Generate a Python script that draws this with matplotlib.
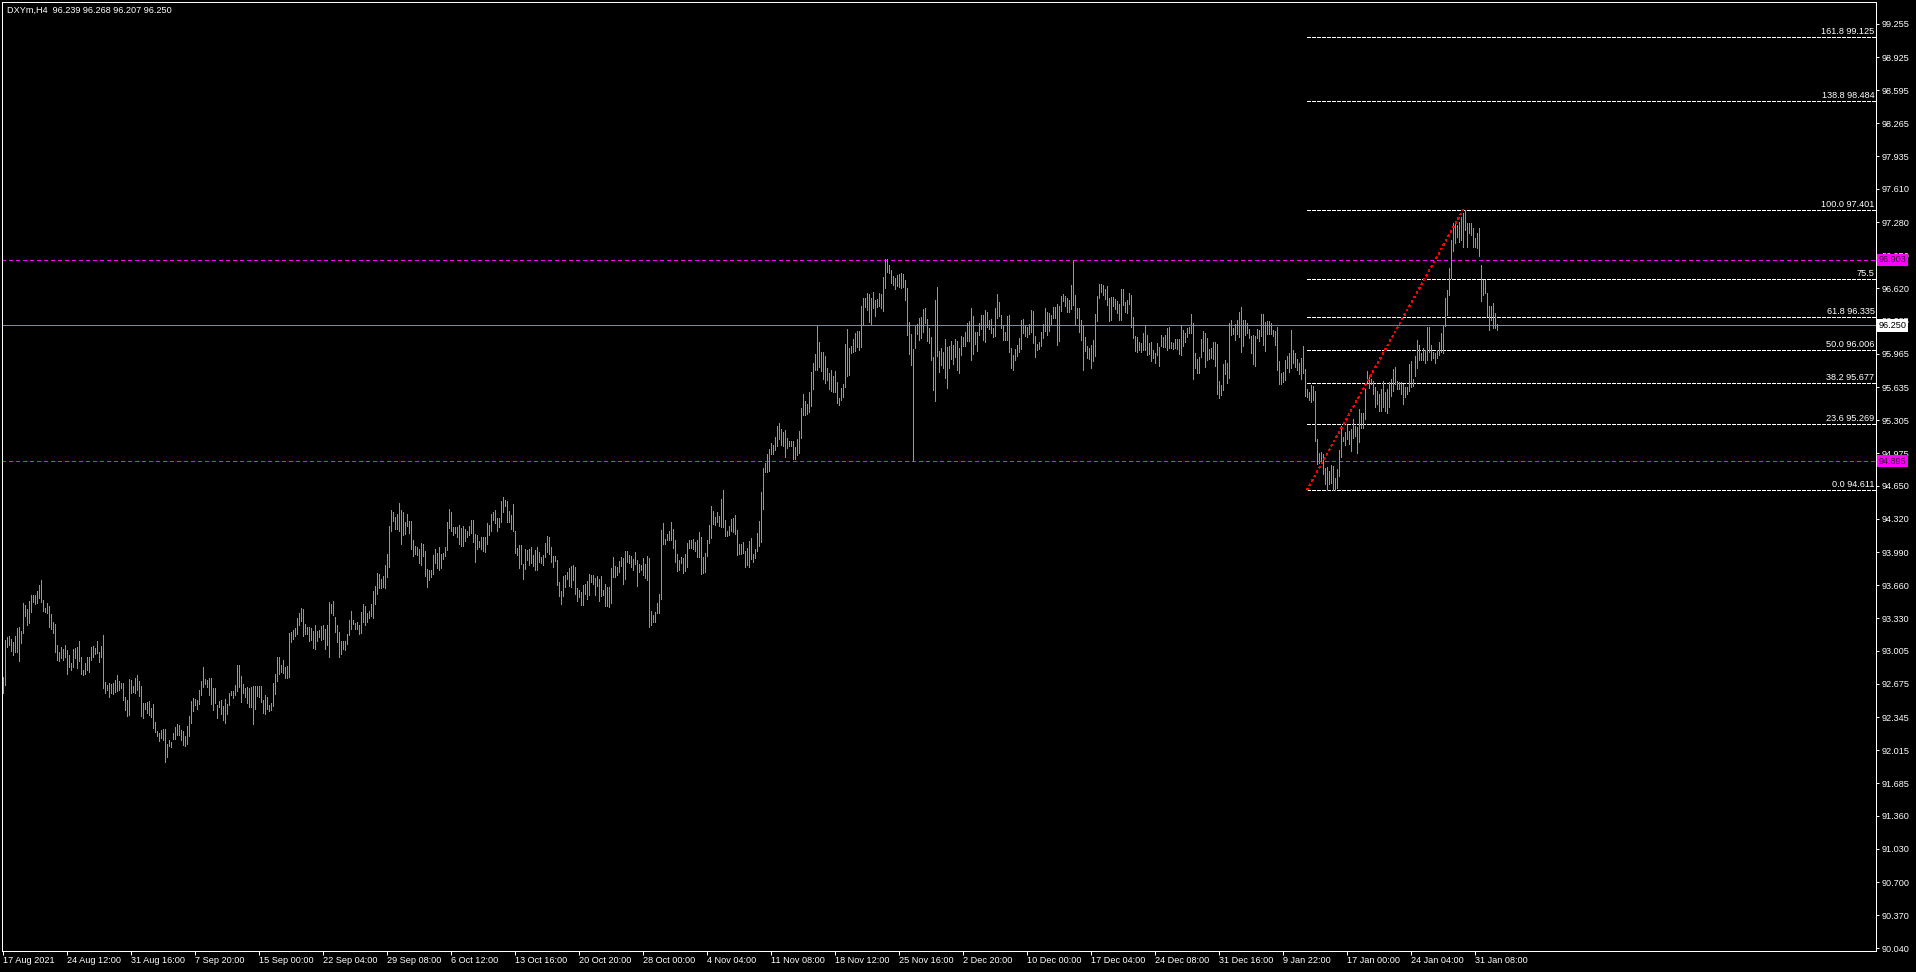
import numpy as np
import matplotlib
matplotlib.use("Agg")
import matplotlib.pyplot as plt
import matplotlib.transforms as mtransforms
from matplotlib import font_manager

# ---- data (DXYm, H4) ----
symbol_text = "DXYm,H4  96.239 96.268 96.207 96.250"

high = [
    # 17 Aug - 29 Sep
    92.74, 93.11, 93.14, 93.15, 93.12, 93.09, 93.15, 93.23, 93.24, 93.20,
    93.48, 93.46, 93.42, 93.50, 93.56, 93.56, 93.56, 93.60, 93.66, 93.71,
    93.51, 93.43, 93.48, 93.45, 93.37, 93.29, 93.27, 93.06, 92.99, 93.04,
    93.02, 93.06, 93.01, 92.96, 92.88, 93.02, 93.03, 93.04, 93.10, 92.94,
    92.81, 92.88, 92.94, 92.94, 93.04, 93.05, 93.03, 93.10, 92.99, 93.05,
    93.16, 92.69, 92.66, 92.68, 92.67, 92.68, 92.71, 92.76, 92.70, 92.68,
    92.68, 92.55, 92.52, 92.72, 92.71, 92.65, 92.73, 92.76, 92.70, 92.65,
    92.49, 92.49, 92.50, 92.51, 92.44, 92.48, 92.30, 92.21, 92.19, 92.22,
    92.23, 92.23, 92.08, 92.12, 92.10, 92.19, 92.25, 92.28, 92.27, 92.22,
    92.21, 92.16, 92.26, 92.36, 92.51, 92.54, 92.53, 92.52, 92.62, 92.70,
    92.84, 92.72, 92.71, 92.73, 92.73, 92.63, 92.63, 92.47, 92.51, 92.52,
    92.46, 92.53, 92.48, 92.59, 92.61, 92.61, 92.66, 92.86, 92.86, 92.75,
    92.67, 92.63, 92.64, 92.63, 92.64, 92.65, 92.65, 92.65, 92.65, 92.65,
    92.52, 92.57, 92.55, 92.47, 92.49, 92.68, 92.77, 92.94, 92.94, 92.86,
    92.91, 92.84, 92.85, 93.18, 93.19, 93.21, 93.23, 93.33, 93.38, 93.43,
    93.42, 93.27, 93.24, 93.24, 93.23, 93.20, 93.26, 93.20, 93.21, 93.25,
    93.26, 93.22, 93.26, 93.49, 93.47, 93.50, 93.34, 93.26, 93.19, 93.10,
    93.10, 93.10, 93.17, 93.31, 93.40, 93.31, 93.28, 93.29, 93.26, 93.39,
    93.47, 93.45, 93.38, 93.40, 93.47, 93.60, 93.65, 93.78, 93.77, 93.72,
    93.75, 93.86, 93.97, 94.25,
    # 29 Sep - 11 Nov
    94.41, 94.39, 94.34, 94.37, 94.48, 94.41, 94.39, 94.29, 94.37, 94.30,
    94.30, 94.11, 94.05, 94.04, 94.02, 94.08, 94.07, 94.00, 93.82, 93.81,
    93.81, 93.96, 94.02, 93.98, 94.04, 93.97, 93.98, 94.04, 94.29, 94.42,
    94.39, 94.24, 94.24, 94.24, 94.26, 94.23, 94.25, 94.22, 94.20, 94.25,
    94.31, 94.31, 94.17, 94.16, 94.10, 94.14, 94.14, 94.14, 94.28, 94.26,
    94.37, 94.39, 94.41, 94.33, 94.33, 94.50, 94.54, 94.51, 94.50, 94.40,
    94.36, 94.47, 94.20, 94.03, 94.06, 94.06, 93.87, 94.02, 94.01, 94.02,
    94.04, 93.96, 94.01, 94.04, 93.99, 93.94, 93.96, 94.08, 94.15, 94.14,
    94.04, 93.95, 93.95, 93.91, 93.69, 93.60, 93.75, 93.76, 93.79, 93.83,
    93.85, 93.86, 93.84, 93.63, 93.61, 93.59, 93.66, 93.67, 93.70, 93.77,
    93.76, 93.76, 93.73, 93.75, 93.72, 93.75, 93.61, 93.67, 93.64, 93.64,
    93.83, 93.94, 93.85, 93.84, 93.90, 93.94, 93.93, 94.00, 94.00, 93.96,
    93.95, 93.92, 93.99, 93.91, 93.87, 93.86, 93.93, 93.87, 93.95, 93.93,
    93.40, 93.36, 93.39, 93.48, 93.57, 94.21, 94.28, 94.12, 94.17, 94.20,
    94.29, 94.22, 94.11, 93.97, 93.91, 93.94, 93.93, 93.97, 94.08, 94.11,
    94.11, 94.12, 94.09, 94.11, 94.19, 94.14, 93.94, 93.98, 94.11, 94.26,
    94.45, 94.40, 94.34, 94.39, 94.35, 94.52, 94.61, 94.31, 94.20, 94.25,
    94.32, 94.33, 94.36, 94.21, 94.07, 94.07, 94.09, 94.00, 94.03, 94.10,
    94.13, 93.97, 94.02, 94.18, 94.30, 94.59, 94.83, 94.88, 94.97, 95.02,
    95.08, 95.06, 95.14, 95.25, 95.28,
    # 11 Nov - 10 Jan
    95.22, 95.19, 95.21, 95.13, 95.10, 95.10, 95.10, 95.04, 95.12, 95.20,
    95.43, 95.57, 95.50, 95.47, 95.59, 95.79, 95.88, 95.96, 96.24, 96.08,
    95.98, 95.98, 95.94, 95.83, 95.78, 95.81, 95.75, 95.80, 95.69, 95.53,
    95.63, 95.67, 96.06, 96.21, 96.02, 96.04, 96.11, 96.17, 96.19, 96.19,
    96.44, 96.52, 96.52, 96.57, 96.56, 96.52, 96.58, 96.50, 96.51, 96.57,
    96.56, 96.73, 96.91, 96.91, 96.85, 96.80, 96.74, 96.72, 96.75, 96.76,
    96.77, 96.76, 96.70, 96.62, 96.28, 96.16, 96.01, 96.24, 96.26, 96.32,
    96.33, 96.41, 96.42, 96.31, 96.22, 96.13, 95.93, 96.50, 96.63, 95.99,
    96.02, 95.98, 96.11, 96.03, 96.04, 96.09, 96.05, 96.11, 96.09, 96.02,
    96.14, 96.13, 96.18, 96.27, 96.29, 96.42, 96.34, 96.18, 96.18, 96.27,
    96.35, 96.35, 96.40, 96.38, 96.30, 96.31, 96.22, 96.42, 96.56, 96.48,
    96.35, 96.25, 96.18, 96.34, 96.35, 96.02, 95.95, 96.01, 96.05, 96.12,
    96.30, 96.31, 96.25, 96.23, 96.26, 96.40, 96.39, 96.14, 96.06, 96.08,
    96.18, 96.26, 96.42, 96.38, 96.37, 96.35, 96.43, 96.43, 96.46, 96.44,
    96.54, 96.56, 96.54, 96.52, 96.50, 96.65, 96.89, 96.55, 96.42, 96.42,
    96.30, 96.25, 96.13, 96.04, 96.02, 96.05, 96.10, 96.36, 96.54, 96.66,
    96.66, 96.65, 96.61, 96.64, 96.52, 96.53, 96.53, 96.51, 96.49, 96.46,
    96.61, 96.61, 96.48, 96.50, 96.57, 96.55, 96.33, 96.14, 96.13, 96.08,
    96.07, 96.17, 96.25, 96.15, 96.07, 96.08, 96.00, 95.97, 96.07, 96.03,
    96.15, 96.13, 96.15, 96.22, 96.23, 96.08, 96.07, 96.11, 96.11, 96.11,
    # 10 Jan - 31 Jan
    96.25, 96.20, 96.17, 96.22, 96.23, 96.36, 96.27, 95.97, 95.91, 95.93,
    96.11, 96.19, 96.17, 96.12, 96.01, 96.02, 96.08, 96.08, 96.06, 95.70,
    95.66, 95.87, 95.90, 95.88, 96.27, 96.30, 96.22, 96.26, 96.30, 96.38,
    96.43, 96.30, 96.30, 96.27, 96.21, 96.14, 96.15, 96.14, 96.21, 96.20,
    96.36, 96.36, 96.28, 96.29, 96.29, 96.27, 96.20, 96.19, 96.23, 95.89,
    95.78, 95.79, 95.90, 95.94, 95.97, 96.20, 96.00, 95.97, 95.91, 95.88,
    95.92, 96.04, 95.82, 95.62, 95.59, 95.66, 95.65, 95.60, 95.12, 94.98,
    94.99, 94.97, 94.83, 94.84, 94.80, 94.86, 94.85, 94.73, 94.82, 95.01,
    95.25, 95.14, 95.19, 95.26, 95.20, 95.22, 95.32, 95.25, 95.24, 95.42,
    95.38, 95.38, 95.62, 95.80,
    95.75, 95.72, 95.70, 95.64, 95.60, 95.57, 95.62, 95.70, 95.59, 95.62,
    95.69, 95.72, 95.82, 95.84, 95.70, 95.69, 95.69, 95.67, 95.64, 95.64,
    95.87, 95.89, 95.72, 95.94, 96.10, 96.05, 95.97, 96.02, 96.00, 96.23,
    96.23, 96.05, 95.98, 95.97, 96.00, 96.08, 96.17, 96.25, 96.52, 96.60,
    96.82, 97.10, 97.27, 97.27, 97.25, 97.28, 97.33, 97.37, 97.401, 97.27,
    97.27, 97.27, 97.22, 97.12, 97.17, 97.22, 96.85, 96.70, 96.70, 96.57,
    96.44, 96.44, 96.47, 96.37, 96.268,
]

low = [
    # 17 Aug - 29 Sep
    92.59, 92.66, 93.04, 93.06, 93.00, 92.96, 92.99, 92.99, 92.90, 93.08,
    93.18, 93.35, 93.26, 93.28, 93.39, 93.49, 93.47, 93.48, 93.53, 93.49,
    93.40, 93.39, 93.38, 93.24, 93.22, 93.18, 92.99, 92.91, 92.90, 92.93,
    92.91, 92.94, 92.77, 92.84, 92.81, 92.84, 92.93, 92.83, 92.90, 92.77,
    92.76, 92.77, 92.81, 92.79, 92.91, 92.94, 92.97, 92.98, 92.89, 92.94,
    92.63, 92.59, 92.62, 92.55, 92.59, 92.58, 92.60, 92.61, 92.62, 92.63,
    92.52, 92.42, 92.36, 92.37, 92.59, 92.60, 92.59, 92.62, 92.56, 92.36,
    92.34, 92.43, 92.39, 92.37, 92.35, 92.24, 92.20, 92.16, 92.11, 92.14,
    92.12, 91.90, 91.95, 92.06, 92.05, 92.13, 92.13, 92.17, 92.17, 92.12,
    92.07, 92.06, 92.08, 92.16, 92.29, 92.41, 92.47, 92.43, 92.48, 92.57,
    92.64, 92.67, 92.64, 92.57, 92.48, 92.42, 92.49, 92.34, 92.45, 92.38,
    92.32, 92.29, 92.38, 92.47, 92.57, 92.54, 92.57, 92.61, 92.64, 92.50,
    92.59, 92.55, 92.49, 92.45, 92.45, 92.28, 92.43, 92.56, 92.55, 92.50,
    92.39, 92.38, 92.43, 92.41, 92.42, 92.46, 92.58, 92.70, 92.77, 92.79,
    92.78, 92.73, 92.73, 92.74, 93.09, 93.12, 93.15, 93.17, 93.26, 93.30,
    93.15, 93.17, 93.17, 93.10, 93.11, 93.03, 93.02, 93.10, 93.14, 93.11,
    93.12, 93.02, 93.06, 92.94, 93.38, 93.36, 93.19, 93.09, 92.94, 92.97,
    93.02, 93.01, 93.07, 93.16, 93.22, 93.27, 93.22, 93.22, 93.17, 93.18,
    93.29, 93.26, 93.29, 93.33, 93.35, 93.33, 93.47, 93.57, 93.63, 93.63,
    93.64, 93.63, 93.74, 93.84,
    # 29 Sep - 11 Nov
    94.20, 94.30, 94.22, 94.22, 94.20, 94.07, 94.16, 94.17, 94.25, 94.18,
    94.02, 93.95, 93.97, 93.96, 93.88, 93.86, 93.95, 93.75, 93.64, 93.71,
    93.74, 93.77, 93.88, 93.83, 93.81, 93.83, 93.92, 93.95, 94.01, 94.23,
    94.20, 94.16, 94.18, 94.14, 94.07, 94.05, 94.05, 94.10, 94.14, 94.16,
    94.18, 94.09, 93.89, 94.02, 94.04, 94.02, 94.00, 93.99, 94.07, 94.16,
    94.20, 94.31, 94.28, 94.20, 94.24, 94.29, 94.39, 94.45, 94.29, 94.29,
    94.22, 94.20, 93.98, 93.96, 93.83, 93.87, 93.72, 93.82, 93.91, 93.86,
    93.88, 93.85, 93.81, 93.81, 93.89, 93.88, 93.86, 93.94, 93.99, 93.97,
    93.89, 93.84, 93.90, 93.66, 93.55, 93.47, 93.55, 93.64, 93.72, 93.65,
    93.64, 93.71, 93.57, 93.50, 93.54, 93.46, 93.46, 93.57, 93.52, 93.56,
    93.69, 93.67, 93.56, 93.65, 93.50, 93.55, 93.56, 93.45, 93.45, 93.44,
    93.48, 93.74, 93.74, 93.76, 93.79, 93.85, 93.67, 93.72, 93.89, 93.88,
    93.84, 93.81, 93.87, 93.65, 93.79, 93.81, 93.76, 93.73, 93.71, 93.24,
    93.26, 93.29, 93.29, 93.38, 93.38, 93.52, 94.07, 94.07, 94.11, 94.11,
    94.11, 94.03, 93.89, 93.80, 93.81, 93.88, 93.78, 93.80, 93.84, 94.03,
    94.03, 94.02, 94.00, 93.94, 93.94, 93.77, 93.78, 93.79, 93.95, 94.08,
    94.13, 94.27, 94.26, 94.29, 94.25, 94.24, 94.24, 94.15, 94.15, 94.16,
    94.20, 94.19, 94.17, 93.96, 93.97, 93.97, 93.98, 93.84, 93.86, 93.84,
    93.92, 93.89, 93.93, 94.00, 94.05, 94.09, 94.42, 94.79, 94.79, 94.80,
    94.97, 94.97, 95.01, 95.05, 95.12,
    # 11 Nov - 10 Jan
    95.06, 95.05, 94.94, 95.03, 95.05, 95.05, 94.92, 94.92, 94.96, 94.98,
    95.13, 95.36, 95.36, 95.37, 95.39, 95.45, 95.62, 95.81, 95.81, 95.84,
    95.80, 95.72, 95.68, 95.71, 95.62, 95.60, 95.59, 95.59, 95.48, 95.46,
    95.51, 95.54, 95.64, 95.75, 95.76, 95.97, 95.98, 95.99, 96.03, 96.00,
    96.03, 96.25, 96.43, 96.40, 96.28, 96.26, 96.42, 96.34, 96.43, 96.44,
    96.42, 96.39, 96.62, 96.78, 96.77, 96.67, 96.65, 96.61, 96.64, 96.63,
    96.62, 96.63, 96.50, 96.15, 95.96, 95.86, 94.895, 96.02, 96.16, 96.10,
    96.12, 96.18, 96.27, 96.09, 96.07, 95.90, 95.61, 95.50, 95.94, 95.79,
    95.86, 95.83, 95.73, 95.63, 95.83, 95.91, 95.87, 95.93, 95.81, 95.78,
    95.95, 96.04, 96.04, 96.09, 96.09, 95.90, 95.96, 96.06, 95.99, 96.15,
    96.21, 96.10, 96.08, 96.23, 96.21, 96.17, 96.13, 96.14, 96.32, 96.34,
    96.22, 96.10, 96.10, 96.10, 95.98, 95.83, 95.81, 95.90, 95.94, 95.98,
    96.01, 96.17, 96.14, 96.13, 96.16, 96.18, 96.07, 95.93, 96.00, 96.01,
    96.04, 96.12, 96.19, 96.15, 96.19, 96.26, 96.32, 96.32, 96.05, 96.09,
    96.39, 96.49, 96.44, 96.38, 96.38, 96.41, 96.45, 96.25, 96.32, 96.18,
    96.10, 95.81, 95.99, 95.92, 95.91, 95.83, 95.89, 95.94, 96.29, 96.52,
    96.58, 96.55, 96.51, 96.45, 96.29, 96.30, 96.44, 96.41, 96.37, 96.30,
    96.30, 96.45, 96.38, 96.37, 96.46, 96.23, 96.12, 95.99, 95.98, 96.00,
    95.98, 96.00, 96.00, 95.95, 95.96, 95.89, 95.92, 95.88, 95.95, 95.85,
    96.04, 96.03, 96.03, 96.00, 96.02, 96.02, 96.01, 96.02, 96.01, 95.96,
    # 10 Jan - 31 Jan
    95.95, 96.04, 96.08, 96.13, 96.17, 96.17, 95.72, 95.83, 95.78, 95.78,
    95.93, 95.99, 95.84, 95.90, 95.91, 95.92, 95.91, 95.85, 95.57, 95.53,
    95.56, 95.61, 95.77, 95.68, 95.73, 96.15, 96.16, 96.10, 96.16, 96.13,
    95.98, 96.04, 96.15, 96.17, 96.12, 95.97, 95.87, 95.85, 96.12, 96.09,
    96.14, 96.05, 95.99, 96.16, 96.16, 96.16, 96.14, 96.05, 95.81, 95.67,
    95.67, 95.69, 95.71, 95.83, 95.79, 95.83, 95.88, 95.84, 95.81, 95.77,
    95.72, 95.78, 95.55, 95.54, 95.51, 95.49, 95.51, 95.10, 94.87, 94.88,
    94.89, 94.77, 94.67, 94.61, 94.67, 94.68, 94.611, 94.611, 94.63, 94.75,
    94.94, 95.10, 95.06, 95.12, 95.07, 95.00, 95.13, 95.15, 94.98, 95.09,
    95.23, 95.23, 95.32, 95.69,
    95.63, 95.67, 95.57, 95.44, 95.47, 95.40, 95.40, 95.44, 95.40, 95.38,
    95.44, 95.55, 95.60, 95.67, 95.62, 95.62, 95.57, 95.47, 95.54, 95.57,
    95.60, 95.64, 95.65, 95.75, 95.83, 95.90, 95.90, 95.90, 95.88, 95.90,
    95.98, 95.90, 95.92, 95.88, 95.92, 95.95, 95.98, 95.97, 96.24, 96.35,
    96.55, 96.72, 96.99, 97.07, 97.13, 97.08, 97.10, 97.03, 97.20, 97.03,
    97.17, 97.15, 97.03, 97.03, 97.02, 96.94, 96.49, 96.55, 96.57, 96.34,
    96.20, 96.30, 96.22, 96.22, 96.207,
]

date_labels = [
    "17 Aug 2021", "24 Aug 12:00", "31 Aug 16:00", "7 Sep 20:00", "15 Sep 00:00",
    "22 Sep 04:00", "29 Sep 08:00", "6 Oct 12:00", "13 Oct 16:00", "20 Oct 20:00",
    "28 Oct 00:00", "4 Nov 04:00", "11 Nov 08:00", "18 Nov 12:00", "25 Nov 16:00",
    "2 Dec 20:00", "10 Dec 00:00", "17 Dec 04:00", "24 Dec 08:00", "31 Dec 16:00",
    "9 Jan 22:00", "17 Jan 00:00", "24 Jan 04:00", "31 Jan 08:00",
]
bars_per_label = 32

price_ticks = [99.255, 98.925, 98.595, 98.265, 97.935, 97.610, 97.280, 96.950,
               96.620, 96.295, 95.965, 95.635, 95.305, 94.975, 94.650, 94.320,
               93.990, 93.660, 93.330, 93.005, 92.675, 92.345, 92.015, 91.685,
               91.360, 91.030, 90.700, 90.370, 90.040]

fib_levels = [99.125, 98.484, 97.401, 96.717, 96.335, 96.006, 95.677, 95.269, 94.611]
fib_labels = ["161.8 99.125", "138.8 98.484", "100.0 97.401", "75.5",
              "61.8 96.335", "50.0 96.006", "38.2 95.677", "23.6 95.269", "0.0 94.611"]
fib_start_bar = 652      # time anchor of the fibo object (low side)
fib_end_bar = 730        # time anchor of the high
fib_low, fib_high = 94.611, 97.401

hline_levels = [96.903, 94.895]
bid = 96.250

# ---- style ----
GREEN = "#00ff00"
MAGENTA = "#ff00ff"
BIDGREY = "#778899"
PX = 0.72  # one pixel in points at dpi 100

plt.rcParams["lines.scale_dashes"] = False

names = {f.name for f in font_manager.fontManager.ttflist}
if "Liberation Sans Narrow" in names:
    FONT, FS = "Liberation Sans Narrow", 8.0
else:
    FONT, FS = "Liberation Sans", 6.6
plt.rcParams["font.family"] = [FONT, "DejaVu Sans"]

W, H = 1916, 972
fig = plt.figure(figsize=(W / 100, H / 100), dpi=100, facecolor="black")
ax = fig.add_axes([2 / W, 21 / H, 1874 / W, 949 / H])
ax.set_facecolor("black")

n = len(high)
x = np.arange(n)
ax.vlines(x, low, high, colors=GREEN, linewidth=PX, antialiased=False, zorder=3)

xmax = 936.5
ax.set_xlim(-0.5, xmax)
ax.set_ylim(90.013, 99.474)

for s in ax.spines.values():
    s.set_color("white")
    s.set_linewidth(PX)

# price scale on the right
ax.yaxis.tick_right()
ax.set_yticks(price_ticks)
ax.set_yticklabels(["%.3f" % v for v in price_ticks])
ax.tick_params(axis="y", colors="white", length=3 * PX, width=PX, pad=2.5 * PX,
               labelsize=FS)

# time scale
ax.set_xticks(np.arange(len(date_labels)) * bars_per_label)
ax.set_xticklabels(date_labels, ha="left")
ax.tick_params(axis="x", colors="white", length=4 * PX, width=PX, pad=1,
               labelsize=FS)

# horizontal lines
for lv in hline_levels:
    ax.axhline(lv, color=MAGENTA, linewidth=PX, dashes=(4 * PX, 3 * PX),
               antialiased=False, zorder=2)
ax.axhline(bid, color=BIDGREY, linewidth=PX, antialiased=False, zorder=2)

# fibonacci retracement
ax.hlines(fib_levels, fib_start_bar, xmax, colors="white", linewidth=PX,
          linestyles=[(0, (3 * PX, 2 * PX))], antialiased=False, zorder=2)
ax.plot([fib_start_bar, fib_end_bar], [fib_low, fib_high], color="#ff0000",
        linewidth=PX, dashes=(2 * PX, 3 * PX), antialiased=False, zorder=4)

trans = mtransforms.blended_transform_factory(ax.transAxes, ax.transData)
up = mtransforms.ScaledTranslation(0, 3 / 100, fig.dpi_scale_trans)
for lv, lab in zip(fib_levels, fib_labels):
    ax.text(0.9992, lv, lab, transform=trans + up, ha="right", va="baseline",
            color="white", fontsize=FS, zorder=5)

# price labels on the scale
for lv in hline_levels:
    ax.text(1.0012, lv, "%.3f" % lv, transform=trans, ha="left", va="center",
            color="#3c003c", fontsize=FS, clip_on=False, zorder=10,
            bbox=dict(boxstyle="square,pad=0.18", fc=MAGENTA, ec="none"))
ax.text(1.0012, bid, "%.3f" % bid, transform=trans, ha="left", va="center",
        color="black", fontsize=FS, clip_on=False, zorder=10,
        bbox=dict(boxstyle="square,pad=0.18", fc="white", ec="none"))

fig.text(7 / W, 1 - 10 / H, symbol_text, color="white", fontsize=FS,
         ha="left", va="center")

fig.savefig("out.png", dpi=100, facecolor="black")
